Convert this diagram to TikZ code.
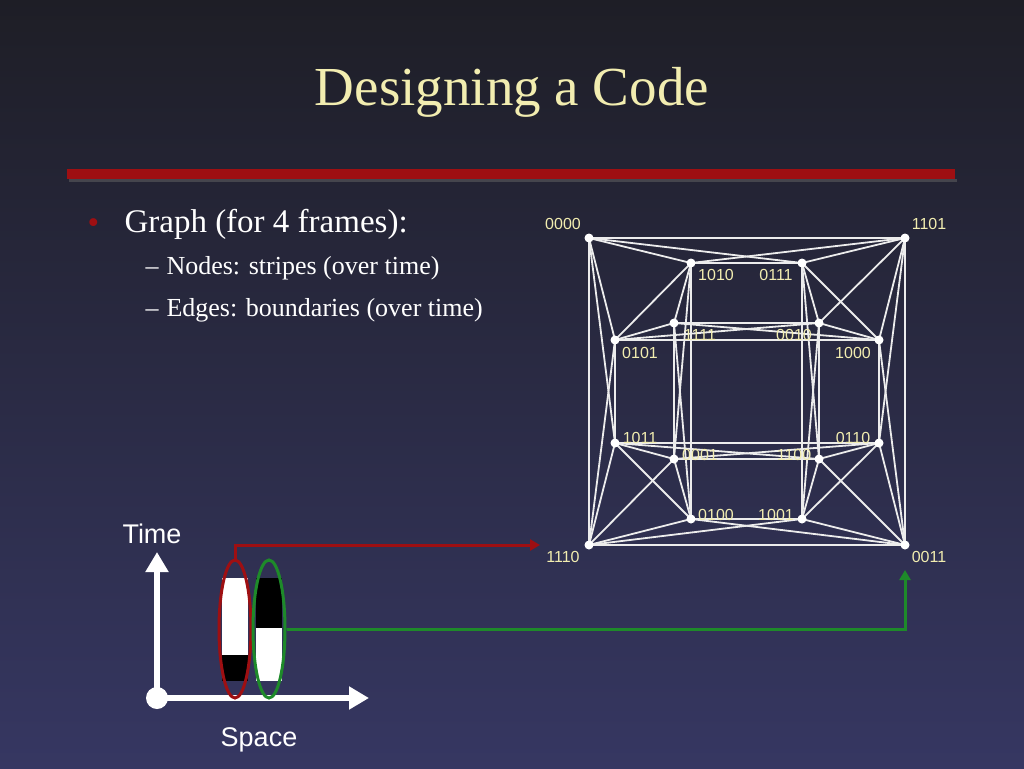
\documentclass[tikz,border=0pt]{standalone}
\usepackage{fontspec}
\setmainfont{Liberation Serif}
\setsansfont{Liberation Sans}
\usetikzlibrary{arrows.meta,shapes.geometric}
\definecolor{cream}{HTML}{F2EDB0}
\definecolor{bgtop}{HTML}{1E1E26}
\definecolor{bgbot}{HTML}{363762}
\definecolor{dred}{HTML}{9E0F12}
\definecolor{dgreen}{HTML}{1E8A2A}
\begin{document}
\begin{tikzpicture}[x=1pt,y=-1pt,
  vx/.style={circle,fill=white,inner sep=0pt,minimum size=9pt},
  lab/.style={font=\sffamily\fontsize{16}{16}\selectfont,text=cream},
  ed/.style={draw=white!85!gray,line width=1.8pt}]
\shade[top color=bgtop,bottom color=bgbot] (0,0) rectangle (1024,768);
\useasboundingbox (0,0) rectangle (1024,768);
\node[text=cream,font=\fontsize{55}{55}\selectfont] (title) at (512,92) {Designing a Code};
\fill[dred] (67,169) rectangle (955,179);
\fill[black!60,opacity=.5] (69,179) rectangle (957,182);
\node[anchor=west,font=\fontsize{33}{33}\selectfont,text=dred] (bul) at (84,226) {•};
\node[anchor=west,font=\fontsize{33}{33}\selectfont,text=white] (b1) at (121,224) {Graph (for 4 frames):};
\node[anchor=west,font=\fontsize{26}{26}\selectfont,text=white] (b2) at (142,268) {–\hspace{8pt}Nodes: stripes (over time)};
\node[anchor=west,font=\fontsize{26}{26}\selectfont,text=white] (b3) at (142,310) {–\hspace{8pt}Edges: boundaries (over time)};
% vertices
\foreach \n/\x/\y in {0000/589/238,1101/905/238,1010/691/263,0111/802/263,1111/674/323,0010/819/323,0101/615/340,1000/879/340,1011/615/443,0110/879/443,0001/674/459,1100/819/459,0100/691/519,1001/802/519,1110/589/545,0011/905/545}
  \coordinate (v\n) at (\x,\y);
\foreach \a/\b in {0000/1101,0000/1010,0000/0111,0000/0101,0000/1011,0000/1110,
  1101/1010,1101/0111,1101/0010,1101/1000,1101/0110,1101/0011,
  1110/0101,1110/1011,1110/0001,1110/0100,1110/1001,1110/0011,
  0011/1000,0011/0110,0011/1100,0011/0100,0011/1001,
  1010/0111,1010/0101,1010/1111,1010/0100,1010/0001,
  0111/1000,0111/0010,0111/1001,0111/1100,
  1111/0010,1111/0001,1111/0101,1111/1000,1111/0100,
  0010/1100,0010/0101,0010/1000,0010/1001,
  0101/1000,0101/1011,1000/0110,
  1011/0110,1011/0001,1011/1100,1011/0100,
  0110/0001,0110/1100,0110/1001,
  0001/1100,0001/0100,1100/1001,0100/1001}
  \draw[ed] (v\a) -- (v\b);
\foreach \n in {0000,1101,1010,0111,1111,0010,0101,1000,1011,0110,0001,1100,0100,1001,1110,0011}
  \node[vx] (n\n) at (v\n) {};
\foreach \n/\x/\y in {0000/563/224,1101/929/224,1010/716/275,0111/776/275,1111/700/335,0010/794/335,0101/640/353,1000/853/353,1011/640/438,0110/853/438,0001/700/455,1100/794/455,0100/716/515,1001/776/515,1110/563/557,0011/929/557}
  \node[lab] (l\n) at (\x,\y) {\n};
% axes
\node[circle,fill=white,minimum size=22pt,inner sep=0pt] (org) at (157,698) {};
\coordinate (tup) at (157,552);
\coordinate (tright) at (369,698);
\draw[white,line width=6pt,-{Triangle[length=20pt,width=22pt]}] (org.center) -- (tup);
\draw[white,line width=6pt,-{Triangle[length=20pt,width=22pt]}] (org.center) -- (tright);
\node[text=white,font=\sffamily\fontsize{27}{27}\selectfont] (time) at (152,534) {Time};
\node[text=white,font=\sffamily\fontsize{27}{27}\selectfont] (space) at (259,740) {Space};
% stripes
\fill[white] (222,578) rectangle (248,655);
\fill[black] (222,655) rectangle (248,681);
\fill[black] (256,578) rectangle (282,628);
\fill[white] (256,628) rectangle (282,681);
\node[draw=dred,line width=3pt,ellipse,minimum width=32pt,minimum height=138pt,inner sep=0pt] (e1) at (235,629) {};
\node[draw=dgreen,line width=3pt,ellipse,minimum width=32pt,minimum height=138pt,inner sep=0pt] (e2) at (269,629) {};
\coordinate (r1) at (540,545);
\coordinate (g1) at (905,570);
\draw[dred,line width=3pt,-{Triangle[length=10pt,width=11pt]}] (e1.north) -- (235,545) -- (r1);
\draw[dgreen,line width=3pt,-{Triangle[length=10pt,width=11pt]}] (e2.east) -| (g1);
\end{tikzpicture}
\end{document}
